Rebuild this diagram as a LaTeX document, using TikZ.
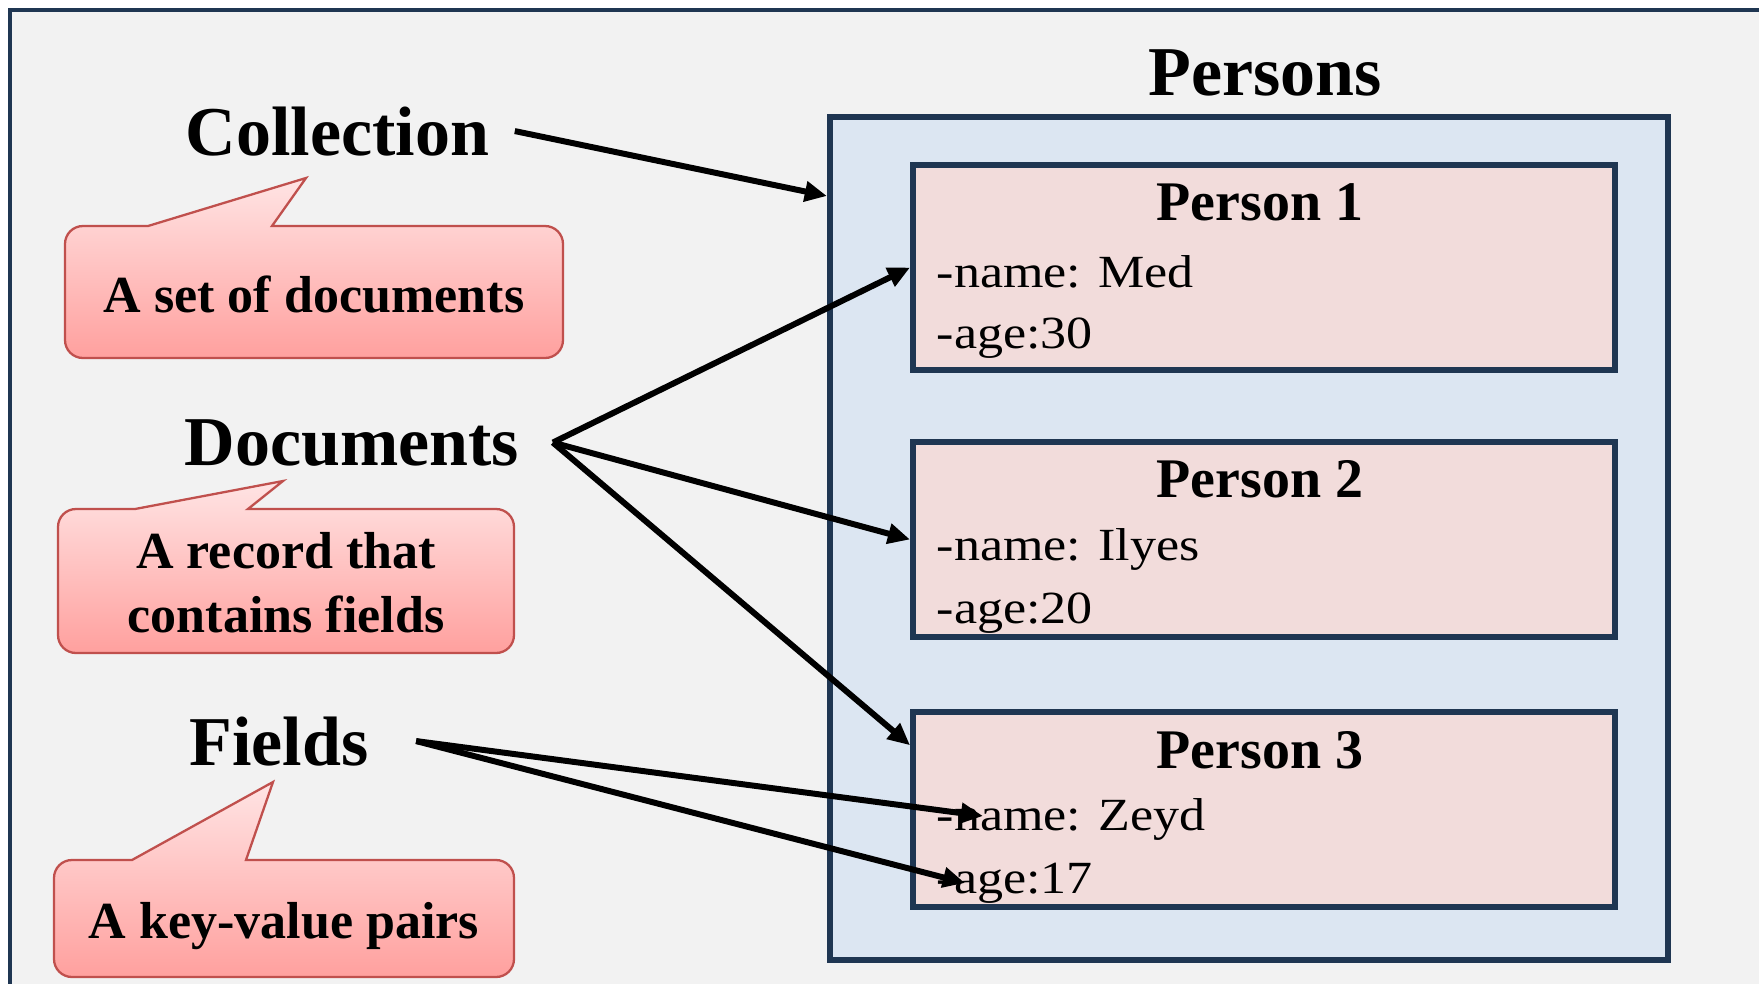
\documentclass[tikz,border=0pt]{standalone}
\usepackage{fontspec}
\setmainfont{Liberation Serif}
\newfontfamily\fieldfont{Liberation Serif}[FakeStretch=1.13]
\usetikzlibrary{arrows.meta}

\definecolor{pageBg}{RGB}{242,242,242}
\definecolor{navy}{RGB}{31,54,82}
\definecolor{setFill}{RGB}{220,230,242}
\definecolor{docFill}{RGB}{242,220,219}
\definecolor{bubbleTop}{RGB}{255,228,228}
\definecolor{bubbleBot}{RGB}{255,160,158}
\definecolor{bubbleEdge}{RGB}{192,80,77}

% speech bubble: left, top, right, bottom, pointer base x1, x2, tip x, tip y
\newcommand\speechbubble[8]{%
  \shadedraw[bubble] (#5,#2) -- (#7,#8) -- (#6,#2) -- (#3-18,#2)
    .. controls (#3-8,#2) and (#3,#2+8) .. (#3,#2+18)
    -- (#3,#4-18) .. controls (#3,#4-8) and (#3-8,#4) .. (#3-18,#4)
    -- (#1+18,#4) .. controls (#1+8,#4) and (#1,#4-8) .. (#1,#4-18)
    -- (#1,#2+18) .. controls (#1,#2+8) and (#1+8,#2) .. (#1+18,#2)
    -- cycle;}

\begin{document}
\begin{tikzpicture}[x=0.01cm, y=-0.01cm,
  bubble/.style={top color=bubbleTop, bottom color=bubbleBot,
    draw=bubbleEdge, line width=0.65pt},
  biglabel/.style={font=\fontsize{19.9}{24}\selectfont\bfseries,
    inner sep=0pt, anchor=base},
  bubbletext/.style={font=\fontsize{14.8}{18}\selectfont\bfseries,
    inner sep=0pt, anchor=base},
  headtext/.style={font=\fontsize{15.9}{19}\selectfont\bfseries,
    inner sep=0pt, anchor=base},
  fieldtext/.style={font=\fontsize{13.1}{16}\selectfont\fieldfont,
    inner sep=0pt, anchor=base west},
  setbox/.style={draw=navy, fill=setFill, line width=1.6pt,
    minimum width=8.38cm, minimum height=8.43cm, inner sep=0pt},
  docbox/.style={draw=navy, fill=docFill, line width=1.55pt,
    minimum width=7.02cm, inner sep=0pt},
  arr/.style={draw=black, line width=1.7pt,
    -{Triangle[length=6.3pt, width=5.6pt]}}]

\useasboundingbox (0,0) rectangle (1759,984);
\clip (0,0) rectangle (1759,984);
\fill[white] (0,0) rectangle (1759,984);
\fill[pageBg] (10,10) rectangle (1800,1010);
\draw[navy, line width=1.4pt] (10,10) rectangle (1800,1010);

% collection container and its documents
\node[setbox] (persbox) at (1249,538.5) {};
\node[biglabel] (perstitle) at (1265,95) {Persons};

\node[docbox, minimum height=2.05cm] (p1) at (1264,267.5) {};
\node[docbox, minimum height=1.95cm] (p2) at (1264,539.5) {};
\node[docbox, minimum height=1.95cm] (p3) at (1264,809.5) {};

\node[headtext] (h1) at (1260,220) {Person 1};
\node[fieldtext] (n1) at (936,287) {-name: Med};
\node[fieldtext] (a1) at (936,348) {-age:30};

\node[headtext] (h2) at (1260,497) {Person 2};
\node[fieldtext] (n2) at (936,560) {-name: Ilyes};
\node[fieldtext] (a2) at (936,623) {-age:20};

\node[headtext] (h3) at (1260,768) {Person 3};
\node[fieldtext] (n3) at (936,830) {-name: Zeyd};
\node[fieldtext] (a3) at (936,893) {-age:17};

% term labels
\node[biglabel] (coll) at (337.5,155) {Collection};
\node[biglabel] (docs) at (352,465) {Documents};
\node[biglabel] (flds) at (279,765) {Fields};

% explanation bubbles
\speechbubble{65}{226}{563}{358}{148}{272}{306}{178}
\node[bubbletext] (b1) at (314,312) {A set of documents};

\speechbubble{58}{509}{514}{653}{135}{248}{283}{481}
\node[bubbletext] (b2a) at (286,568) {A record that};
\node[bubbletext] (b2b) at (286,632) {contains fields};

\speechbubble{54}{860}{514}{977}{132}{246}{273}{782}
\node[bubbletext] (b3) at (284,938) {A key-value pairs};

% connectors
\draw[arr] ([xshift=0.25cm]coll.east) -- ([yshift=-0.82cm]persbox.north west);
\draw[arr] ([xshift=0.33cm]docs.east) -- (p1.west);
\draw[arr] ([xshift=0.33cm]docs.east) -- (p2.west);
\draw[arr] ([xshift=0.33cm]docs.east) -- ([yshift=-0.36cm]p3.north west);
\draw[arr] ([xshift=0.47cm]flds.east) -- ([shift={(0.47cm,0.14cm)}]n3.base west);
\draw[arr] ([xshift=0.47cm]flds.east) -- ([shift={(0.29cm,0.10cm)}]a3.base west);

\end{tikzpicture}
\end{document}
